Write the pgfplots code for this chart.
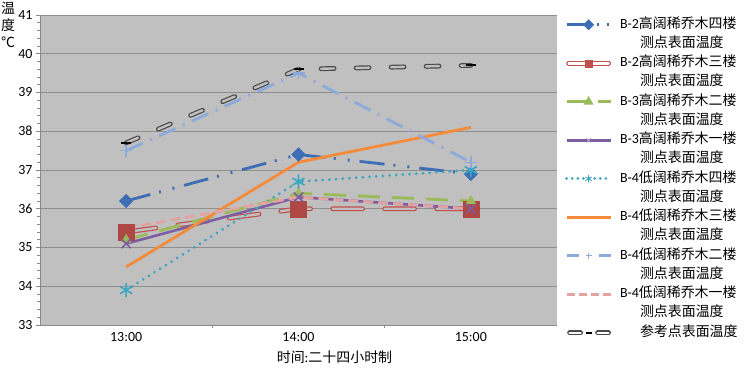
\documentclass[border=0pt]{standalone}
\usepackage{fontspec}
\setmainfont{Carlito}
\newfontfamily\cjk{Noto Sans CJK SC}
\usepackage{pgfplots}
\usepackage{pgfplotstable}
\pgfplotsset{compat=1.18}
\definecolor{bg}{HTML}{C0C0C0}
\definecolor{gridgray}{HTML}{8E8E8E}
\definecolor{axisgray}{HTML}{8A8A8A}
\definecolor{cA}{HTML}{3D6DB5}
\definecolor{cB}{HTML}{C0504D}
\definecolor{cC}{HTML}{9BBB59}
\definecolor{cD}{HTML}{7D5FA0}
\definecolor{cE}{HTML}{3BA6C1}
\definecolor{cF}{HTML}{F58B3A}
\definecolor{cG}{HTML}{8DAADB}
\definecolor{cH}{HTML}{E3A3A1}
\definecolor{cI}{HTML}{4A4A4A}
\pgfplotstableread{
x s1 s2 s3 s4 s5 s6 s7 s8 s9
0 36.2 35.4 35.2 35.1 33.9 34.5 37.5 35.5 37.7
1 37.4 36.0 36.4 36.3 36.7 37.2 39.5 36.3 39.6
2 36.9 36.0 36.2 36.0 37.0 38.1 37.2 36.0 39.7
}\datatable
\begin{document}
\begin{tikzpicture}
\begin{axis}[
  scale only axis, width=517bp, height=310bp,
  xmin=-0.5, xmax=2.5, ymin=33, ymax=41,
  axis background/.style={fill=bg},
  axis x line*=bottom, axis y line*=left,
  axis line style={draw=axisgray, line width=0.8bp, -},
  ytick={33,...,41}, minor y tick num=4,
  xtick={0,1,2}, xticklabels={13:00,14:00,15:00}, minor xtick={0.5,1.5},
  major x tick style={draw=none},
  tick align=outside, major tick length=4bp, minor tick length=3bp,
  tick style={draw=axisgray, line width=0.8bp},
  ymajorgrids, major grid style={draw=gridgray, line width=1bp},
  tick label style={font=\fontsize{14}{16}\selectfont},
  /pgf/number format/assume math mode=true,
  clip=false,
  legend style={at={(1,1)}, anchor=north west, xshift=8bp, draw=none, fill=none,
    inner sep=0pt, font=\fontsize{14}{16}\selectfont, row sep=0pt,
    nodes={inner xsep=0pt, inner ysep=0pt, text height=13bp, text depth=6.25bp, anchor=west},
    /tikz/every odd column/.append style={column sep=8bp}},
  legend cell align=left,
  legend image code/.code={\draw[mark repeat=2,mark phase=2] plot coordinates {(0bp,0bp)(22bp,0bp)(44bp,0bp)};},
]
% series lines
\addplot[forget plot, cA, line width=2.8bp, dash pattern=on 25bp off 9bp on 2bp off 12bp on 2bp off 10bp] table[x=x,y=s1] {\datatable};
\addplot[forget plot, only marks, mark=square*, mark size=4.8bp, mark options={rotate=45, fill=cA, draw=cA}] table[x=x,y=s1] {\datatable};
\addplot[forget plot, cB, line width=1.2bp, double=bg, double distance=2.4bp, line cap=round, dash pattern=on 30bp off 22bp] table[x=x,y=s2] {\datatable};
\addplot[forget plot, only marks, mark=square*, mark size=8bp, mark options={fill=cB!90!black, draw=cB!90!black}] table[x=x,y=s2] {\datatable};
\addplot[forget plot, cC, line width=2.8bp, dash pattern=on 22bp off 12bp] table[x=x,y=s3] {\datatable};
\addplot[forget plot, only marks, mark=triangle*, mark size=5.5bp, mark options={fill=cC, draw=cC}] table[x=x,y=s3] {\datatable};
\addplot[forget plot, cD, line width=2.6bp] table[x=x,y=s4] {\datatable};
\addplot[forget plot, only marks, mark=x, mark size=6.5bp, mark options={draw=cD, line width=1.6bp}] table[x=x,y=s4] {\datatable};
\addplot[forget plot, cE, line width=3bp, line cap=round, dash pattern=on 0.1bp off 6.6bp] table[x=x,y=s5] {\datatable};
\addplot[forget plot, only marks, mark=asterisk, mark size=7bp, mark options={draw=cE, line width=1.6bp}] table[x=x,y=s5] {\datatable};
\addplot[forget plot, cF, line width=2.8bp] table[x=x,y=s6] {\datatable};
\addplot[forget plot, cG, line width=2.8bp, dash pattern=on 18bp off 8bp on 2bp off 8bp] table[x=x,y=s7] {\datatable};
\addplot[forget plot, only marks, mark=+, mark size=6bp, mark options={draw=cG, line width=1.4bp}] table[x=x,y=s7] {\datatable};
\addplot[forget plot, cH, line width=2.8bp, dash pattern=on 10bp off 5bp] table[x=x,y=s8] {\datatable};
\addplot[forget plot, cI, line width=1.2bp, double=bg, double distance=2.4bp, line cap=round, dash pattern=on 13bp off 22bp] table[x=x,y=s9] {\datatable};
\addplot[forget plot, only marks, mark=-, mark size=5bp, mark options={draw=black, line width=2bp}] table[x=x,y=s9] {\datatable};
% legend
\addlegendimage{cA, line width=2.8bp, dash pattern=on 22bp off 8bp on 2bp off 8bp on 2bp off 8bp, mark=square*, mark size=2.5bp, mark options={solid, rotate=45, fill=cA}}
\addlegendentry{B-2{\cjk 高阔稀乔木四楼}}
\addlegendimage{empty legend}\addlegendentry{\hspace{20bp}{\cjk 测点表面温度}}
\addlegendimage{legend image code/.code={\draw[cB, line width=1.2bp, double=white, double distance=2.4bp, line cap=round] (2bp,0bp)--(42bp,0bp); \fill[cB] (18.5bp,-3.5bp) rectangle (25.5bp,3.5bp);}}
\addlegendentry{B-2{\cjk 高阔稀乔木三楼}}
\addlegendimage{empty legend}\addlegendentry{\hspace{20bp}{\cjk 测点表面温度}}
\addlegendimage{cC, line width=2.8bp, dash pattern=on 22bp off 9bp on 13bp, mark=triangle*, mark size=3bp, mark options={solid, fill=cC}}
\addlegendentry{B-3{\cjk 高阔稀乔木二楼}}
\addlegendimage{empty legend}\addlegendentry{\hspace{20bp}{\cjk 测点表面温度}}
\addlegendimage{cD, line width=2.6bp, mark=x, mark size=3bp, mark options={draw=cD!60!white, line width=0.8bp}}
\addlegendentry{B-3{\cjk 高阔稀乔木一楼}}
\addlegendimage{empty legend}\addlegendentry{\hspace{20bp}{\cjk 测点表面温度}}
\addlegendimage{cE, line width=2.8bp, line cap=round, dash pattern=on 0.1bp off 5.5bp, mark=asterisk, mark size=3.5bp, mark options={solid, draw=cE, line width=0.8bp}}
\addlegendentry{B-4{\cjk 低阔稀乔木四楼}}
\addlegendimage{empty legend}\addlegendentry{\hspace{20bp}{\cjk 测点表面温度}}
\addlegendimage{cF, line width=2.8bp}
\addlegendentry{B-4{\cjk 低阔稀乔木三楼}}
\addlegendimage{empty legend}\addlegendentry{\hspace{20bp}{\cjk 测点表面温度}}
\addlegendimage{cG, line width=2.8bp, dash pattern=on 12bp off 20bp on 12bp, mark=+, mark size=3bp, mark options={solid, draw=cG, line width=0.8bp}}
\addlegendentry{B-4{\cjk 低阔稀乔木二楼}}
\addlegendimage{empty legend}\addlegendentry{\hspace{20bp}{\cjk 测点表面温度}}
\addlegendimage{cH, line width=2.8bp, dash pattern=on 8bp off 4bp}
\addlegendentry{B-4{\cjk 低阔稀乔木一楼}}
\addlegendimage{empty legend}\addlegendentry{\hspace{20bp}{\cjk 测点表面温度}}
\addlegendimage{legend image code/.code={\draw[cI, line width=1.2bp, double=white, double distance=2.4bp, line cap=round] (3bp,0bp)--(14bp,0bp) (31bp,0bp)--(42bp,0bp); \draw[black, line width=2bp] (19bp,0bp)--(25bp,0bp);}}
\addlegendentry{\hspace{20bp}{\cjk 参考点表面温度}}
\coordinate (SW) at (rel axis cs:0,0);
\coordinate (NW) at (rel axis cs:0,1);
\coordinate (SM) at (rel axis cs:0.5,0);
\end{axis}
\node[font=\cjk\fontsize{14}{17}\selectfont, align=center, anchor=north, inner sep=0pt, xshift=-32bp, yshift=13bp] at (NW) {温\\度\\℃};
\node[font=\fontsize{14}{16}\selectfont, anchor=center, inner sep=0pt, xshift=36bp, yshift=-32bp] at (SM) {{\cjk 时间}:{\cjk 二十四小时制}};
\pgfresetboundingbox
\path[use as bounding box] (SW) ++(-40bp,-44bp) rectangle ++(748bp,369bp);
\end{tikzpicture}
\end{document}
